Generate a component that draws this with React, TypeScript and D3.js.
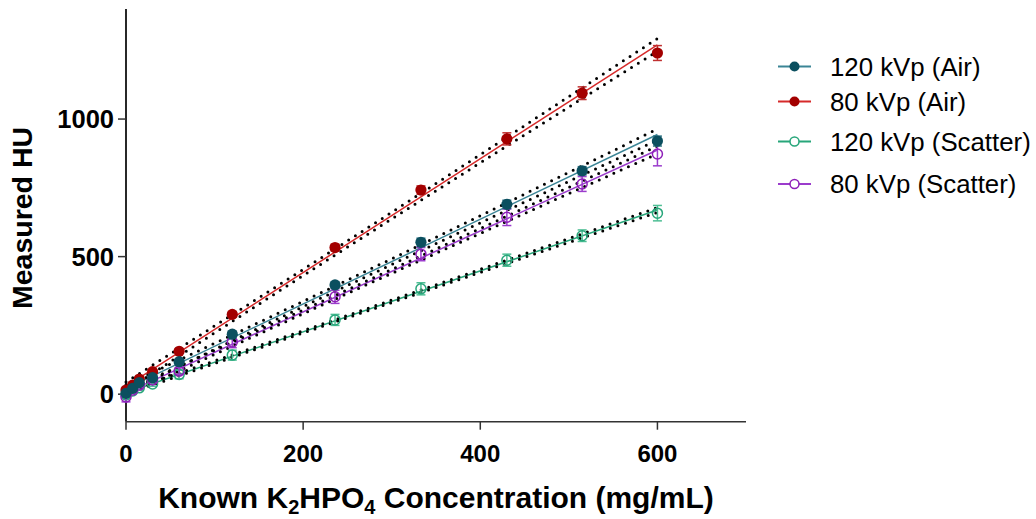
import React from 'react';
import * as d3 from 'd3';

const concentrations = [0, 7.5, 15, 30, 60, 120, 236, 333, 430, 515, 600];
const hu120Air = [3, 21, 42, 60, 118, 218, 397, 552, 690, 812, 920];
const hu80Air = [15, 33, 55, 82, 156, 290, 533, 742, 928, 1094, 1240];
const hu120Scatter = [-3, 12, 23, 37, 72, 142, 270, 383, 487, 576, 658];
const hu80Scatter = [-10, 15, 33, 52, 84, 190, 354, 509, 643, 764, 873];
const sd120Air = [5, 5, 6, 6, 8, 10, 12, 15, 15, 15, 18];
const sd80Air = [5, 5, 6, 6, 8, 10, 12, 15, 22, 23, 27];
const sd120Scatter = [12, 8, 8, 8, 16, 18, 20, 22, 22, 21, 28];
const sd80Scatter = [18, 10, 10, 10, 12, 21, 24, 24, 30, 27, 43];
const seriesNames = ['120 kVp (Air)', '80 kVp (Air)', '120 kVp (Scatter)', '80 kVp (Scatter)'];
const xTicks = [0, 200, 400, 600];
const yTicks = [0, 500, 1000];

const W = 1036;
const H = 519;
const T95 = 2.262; // t(0.975, df = 9)

const x = d3.scaleLinear().domain([0, 700]).range([126, 746]);
const y = d3.scaleLinear().domain([-100, 1400]).range([421.7, 9]);

type S = {
  name: string; values: number[]; sd: number[]; marker: string; line: string; err: string; filled: boolean; legendY: number;
};

const series: S[] = [
  { name: seriesNames[0], values: hu120Air, sd: sd120Air, marker: '#0b4f5f', line: '#3b8596', err: '#2f7485', filled: true, legendY: 66.5 },
  { name: seriesNames[1], values: hu80Air, sd: sd80Air, marker: '#a30000', line: '#d62a2a', err: '#c03030', filled: true, legendY: 101.5 },
  { name: seriesNames[2], values: hu120Scatter, sd: sd120Scatter, marker: '#27a67a', line: '#27a67a', err: '#4fbf95', filled: false, legendY: 141.5 },
  { name: seriesNames[3], values: hu80Scatter, sd: sd80Scatter, marker: '#8e1fb8', line: '#9b3ccc', err: '#9b3ccc', filled: false, legendY: 184 },
];

function fit(xs: number[], ys: number[]) {
  const n = xs.length;
  const mx = d3.mean(xs) as number;
  const my = d3.mean(ys) as number;
  const sxx = d3.sum(xs, (v) => (v - mx) ** 2);
  const sxy = d3.sum(xs.map((v, i) => (v - mx) * (ys[i] - my)));
  const b = sxy / sxx;
  const a = my - b * mx;
  const sse = d3.sum(xs.map((v, i) => (ys[i] - (a + b * v)) ** 2));
  const s = Math.sqrt(sse / (n - 2));
  const band = (xv: number, sign: number) =>
    a + b * xv + sign * T95 * s * Math.sqrt(1 / n + (xv - mx) ** 2 / sxx);
  return { a, b, band };
}

const drawOrder = [2, 3, 1, 0];

export default function App() {
  const xmin = d3.min(concentrations) as number;
  const xmax = d3.max(concentrations) as number;
  const grid = d3.range(0, 61).map((i) => xmin + ((xmax - xmin) * i) / 60);
  const lineGen = d3.line<[number, number]>().x((d) => x(d[0])).y((d) => y(d[1]));
  const fits = series.map((s) => fit(concentrations, s.values));
  const font = 'Liberation Sans, Arial, Helvetica, sans-serif';

  return (
    <svg width={W} height={H} style={{ position: 'absolute', left: 0, top: 0, background: '#fff' }} fontFamily={font}>
      {/* axes */}
      <line x1={x(0)} x2={x(0)} y1={y(1400)} y2={y(-100)} stroke="#111" strokeWidth={1.8} />
      <line x1={x(0)} x2={x(700)} y1={y(-100)} y2={y(-100)} stroke="#333" strokeWidth={1.6} />
      {yTicks.map((t) => (
        <g key={'yt' + t}>
          <line x1={x(0) - 8} x2={x(0)} y1={y(t)} y2={y(t)} stroke="#333" strokeWidth={1.5} />
          <text x={x(0) - 12} y={y(t)} textAnchor="end" dominantBaseline="central" fontSize={25.5} fontWeight="bold">{t}</text>
        </g>
      ))}
      {xTicks.map((t) => (
        <g key={'xt' + t}>
          <line x1={x(t)} x2={x(t)} y1={y(-100)} y2={y(-100) + 8} stroke="#333" strokeWidth={1.5} />
          <text x={x(t)} y={462} textAnchor="middle" fontSize={24} fontWeight="bold">{t}</text>
        </g>
      ))}
      <text transform={`translate(32,218) rotate(-90)`} textAnchor="middle" fontSize={28.5} fontWeight="bold">Measured HU</text>
      <text x={436} y={508} textAnchor="middle" fontSize={30} fontWeight="bold">
        Known K<tspan fontSize={20} dy={6}>2</tspan><tspan dy={-6}>HPO</tspan><tspan fontSize={20} dy={6}>4</tspan><tspan dy={-6}> Concentration (mg/mL)</tspan>
      </text>

      {/* fit lines */}
      {drawOrder.map((k) => {
        const f = fits[k];
        return (
          <line key={'fit' + k} x1={x(xmin)} y1={y(f.a + f.b * xmin)} x2={x(xmax)} y2={y(f.a + f.b * xmax)} stroke={series[k].line} strokeWidth={1.5} />
        );
      })}
      {/* confidence bands */}
      {drawOrder.map((k) => {
        const f = fits[k];
        return (
          <g key={'band' + k}>
            {[1, -1].map((sg) => (
              <path key={sg} d={lineGen(grid.map((g) => [g, f.band(g, sg)] as [number, number])) || ''} fill="none" stroke="#000" strokeWidth={3} strokeLinecap="round" strokeDasharray="0 8" />
            ))}
          </g>
        );
      })}
      {/* error bars and points */}
      {drawOrder.map((k) => {
        const s = series[k];
        return (
          <g key={'pts' + k}>
            {concentrations.map((c, i) => {
              const cx = x(c);
              const top = y(s.values[i] + s.sd[i]);
              const bot = y(s.values[i] - s.sd[i]);
              return (
                <g key={i}>
                  <line x1={cx} x2={cx} y1={top} y2={bot} stroke={s.err} strokeWidth={1.5} />
                  <line x1={cx - 4.5} x2={cx + 4.5} y1={top} y2={top} stroke={s.err} strokeWidth={1.5} />
                  <line x1={cx - 4.5} x2={cx + 4.5} y1={bot} y2={bot} stroke={s.err} strokeWidth={1.5} />
                  {s.filled ? (
                    <circle cx={cx} cy={y(s.values[i])} r={5.6} fill={s.marker} />
                  ) : (
                    <circle cx={cx} cy={y(s.values[i])} r={5} fill="none" stroke={s.marker} strokeWidth={1.5} />
                  )}
                </g>
              );
            })}
          </g>
        );
      })}

      {/* legend */}
      {series.map((s) => (
        <g key={'lg' + s.name}>
          <line x1={778} x2={811} y1={s.legendY} y2={s.legendY} stroke={s.line} strokeWidth={1.8} />
          {s.filled ? (
            <circle cx={794.5} cy={s.legendY} r={5} fill={s.marker} />
          ) : (
            <circle cx={794.5} cy={s.legendY} r={4.5} fill="#fff" stroke={s.marker} strokeWidth={1.5} />
          )}
          <text x={830} y={s.legendY} dominantBaseline="central" fontSize={25.8}>{s.name}</text>
        </g>
      ))}
    </svg>
  );
}
